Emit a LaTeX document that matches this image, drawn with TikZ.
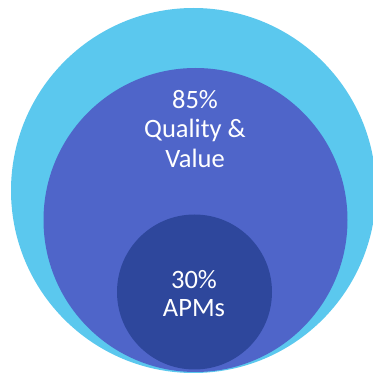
\documentclass[tikz,border=0pt]{standalone}
\usepackage{fontspec}
\setmainfont{Carlito}
\usepackage{xcolor}
\usetikzlibrary{positioning}

\definecolor{outerblue}{HTML}{5BC8EE}
\definecolor{midblue}{HTML}{4F65C9}
\definecolor{innerblue}{HTML}{2E479C}

\tikzset{
  ring/.style={circle, inner sep=0pt, draw=none},
  label/.style={text=white, align=center, font=\fontsize{26.5}{29.5}\selectfont}
}

\begin{document}
\begin{tikzpicture}[x=1pt, y=1pt]
\useasboundingbox (0,0) rectangle (373,373);
\clip (0,0) rectangle (373,373);
\fill[white] (0,0) rectangle (373,373);

% Circles
\node[ring, fill=outerblue, minimum size=365pt] (outer) at (193.5,182.5) {};
\node[ring, fill=midblue, minimum size=304pt] (middle) at (195.5,153) {};
\node[ring, fill=innerblue, minimum size=155pt] (inner) at (194.5,81) {};

% Labels
\node[label] (qv) at (195,244) {85\%\\Quality \&\\Value};
\node[label, font=\fontsize{26.5}{28}\selectfont] (apm) at (194,79) {30\%\\APMs};

\end{tikzpicture}
\end{document}
